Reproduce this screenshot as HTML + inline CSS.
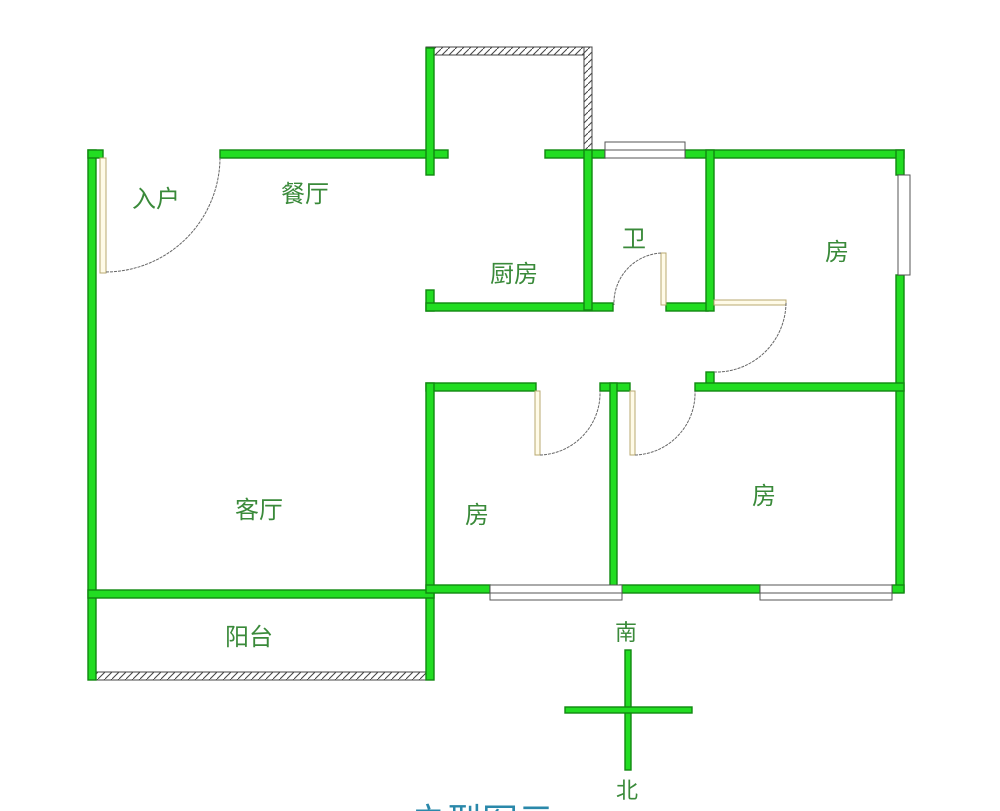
<!DOCTYPE html>
<html><head><meta charset="utf-8"><style>
body{margin:0;background:#fff;width:1000px;height:811px;overflow:hidden}
svg{display:block}
text{font-family:"Liberation Sans","Noto Sans CJK SC",sans-serif;fill:#3a8a3a;font-size:24px}
</style></head><body>
<svg width="1000" height="811" viewBox="0 0 1000 811">
<defs>
<pattern id="h" width="7" height="7" patternUnits="userSpaceOnUse"><rect width="7" height="7" fill="#fff"/><line x1="0" y1="7" x2="7" y2="0" stroke="#444" stroke-width="1"/></pattern>
</defs>
<g fill="url(#h)" stroke="#444" stroke-width="1">
<rect x="426" y="47" width="166" height="8"/>
<rect x="584" y="47" width="8" height="108"/>
<rect x="88" y="672" width="346" height="8"/>
</g>
<g fill="#22dd22" stroke="#108810" stroke-width="1.4">
<rect x="88" y="150" width="8" height="530"/>
<rect x="88" y="150" width="15" height="8"/>
<rect x="220" y="150" width="228" height="8"/>
<rect x="426" y="48" width="8" height="127"/>
<rect x="426" y="290" width="8" height="21"/>
<rect x="426" y="303" width="187" height="8"/>
<rect x="545" y="150" width="60" height="8"/>
<rect x="685" y="150" width="219" height="8"/>
<rect x="584" y="150" width="8" height="160"/>
<rect x="666" y="303" width="42" height="8"/>
<rect x="706" y="150" width="8" height="161"/>
<rect x="896" y="150" width="8" height="25"/>
<rect x="896" y="275" width="8" height="317"/>
<rect x="706" y="372" width="8" height="18"/>
<rect x="695" y="383" width="209" height="8"/>
<rect x="426" y="383" width="110" height="8"/>
<rect x="600" y="383" width="30" height="8"/>
<rect x="610" y="383" width="7" height="209"/>
<rect x="426" y="383" width="8" height="297"/>
<rect x="88" y="590" width="346" height="8"/>
<rect x="426" y="585" width="64" height="8"/>
<rect x="620" y="585" width="140" height="8"/>
<rect x="892" y="585" width="12" height="8"/>
<rect x="625" y="650" width="6" height="120"/>
<rect x="565" y="707" width="127" height="6"/>
</g>
<g fill="#fff" stroke="#555" stroke-width="1">
<rect x="605" y="142" width="80" height="16"/>
<rect x="605" y="150" width="80" height="8"/>
<rect x="898" y="175" width="12" height="100"/>
<rect x="490" y="585" width="132" height="15"/>
<rect x="490" y="585" width="132" height="8"/>
<rect x="760" y="585" width="132" height="15"/>
<rect x="760" y="585" width="132" height="8"/>
</g>
<g fill="#fffbe8" stroke="#b8a870" stroke-width="1">
<rect x="100" y="158" width="6" height="115"/>
<rect x="661" y="253" width="5" height="52"/>
<rect x="714" y="300" width="72" height="5"/>
<rect x="535" y="391" width="5" height="64"/>
<rect x="630" y="391" width="5" height="64"/>
</g>
<g fill="none" stroke="#666" stroke-width="1" stroke-dasharray="3,1">
<path d="M106 272 A115 115 0 0 0 220 158"/>
<path d="M661 253 A50 50 0 0 0 614 305"/>
<path d="M786 303 A70 70 0 0 1 714 372"/>
<path d="M540 455 A62 62 0 0 0 600 391"/>
<path d="M635 455 A62 62 0 0 0 695 391"/>
</g>
<text x="132" y="207">入户</text>
<text x="281" y="202">餐厅</text>
<text x="490" y="282">厨房</text>
<text x="622" y="247">卫</text>
<text x="825" y="260">房</text>
<text x="235" y="518">客厅</text>
<text x="465" y="523">房</text>
<text x="752" y="504">房</text>
<text x="225" y="645">阳台</text>
<text x="615" y="640" style="font-size:22px">南</text>
<text x="616" y="798" style="font-size:22px">北</text>
<text x="410" y="834" style="font-size:36px;fill:#2a88aa">户型图示</text>
</svg>
</body></html>
